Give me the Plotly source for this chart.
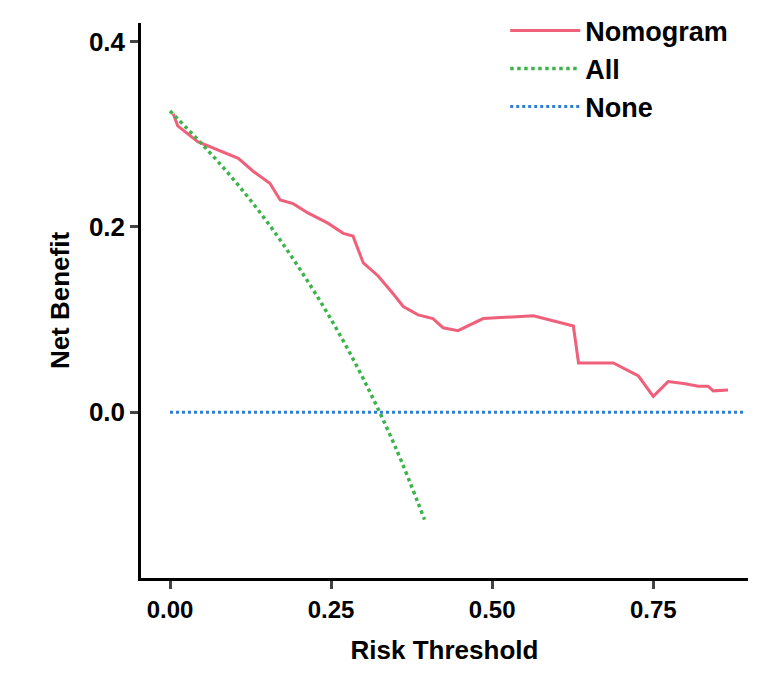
import plotly.graph_objects as go

nom_x = [0.005,0.012,0.043,0.067,0.106,0.129,0.155,0.171,0.191,0.214,0.245,0.269,0.284,0.300,0.323,0.346,0.362,0.385,0.408,0.424,0.447,0.486,0.564,0.626,0.634,0.688,0.727,0.750,0.773,0.797,0.820,0.835,0.843,0.866]
nom_y = [0.322,0.309,0.292,0.285,0.274,0.260,0.247,0.229,0.225,0.215,0.204,0.193,0.190,0.161,0.147,0.128,0.114,0.105,0.101,0.091,0.088,0.101,0.104,0.093,0.053,0.053,0.039,0.017,0.033,0.031,0.028,0.028,0.023,0.024]
all_x = [0.0,0.05,0.10,0.15,0.20,0.25,0.30,0.35,0.395]
all_y = [0.325,0.289,0.250,0.206,0.156,0.100,0.036,-0.038,-0.116]
none_x = [0.0,0.89]
none_y = [0.0,0.0]

fig = go.Figure()
fig.add_trace(go.Scatter(x=nom_x, y=nom_y, mode="lines", name="<b>Nomogram</b>", line=dict(color="#f0607a", width=3)))
fig.add_trace(go.Scatter(x=all_x, y=all_y, mode="lines", name="<b>All</b>", line=dict(color="#3cb44b", width=3.5, dash="dot", shape="spline")))
fig.add_trace(go.Scatter(x=none_x, y=none_y, mode="lines", name="<b>None</b>", line=dict(color="#2f7fd6", width=3, dash="dot")))

fig.update_layout(
    width=781, height=691, plot_bgcolor="white", paper_bgcolor="white",
    margin=dict(l=133, r=41, t=15, b=121, autoexpand=False),
    font=dict(family="Liberation Sans, Arial", size=26, color="black"),
    legend=dict(x=0.6, y=1.03, xanchor="left", yanchor="top", font=dict(size=27), bgcolor="rgba(0,0,0,0)", itemwidth=70, tracegroupgap=8),
    xaxis=dict(range=[-0.045,0.897], tickvals=[0,0.25,0.5,0.75], ticktext=["<b>0.00</b>","<b>0.25</b>","<b>0.50</b>","<b>0.75</b>"],
               showgrid=False, zeroline=False, showline=True, linecolor="black", linewidth=2.5,
               ticks="outside", ticklen=8, tickwidth=2.5, automargin=False, tickfont=dict(size=24),
               title=dict(text="<b>Risk Threshold</b>", font=dict(size=26), standoff=20)),
    yaxis=dict(range=[-0.179,0.42], tickvals=[0,0.2,0.4], ticktext=["<b>0.0</b>","<b>0.2</b>","<b>0.4</b>"],
               showgrid=False, zeroline=False, showline=True, linecolor="black", linewidth=2.5,
               ticks="outside", ticklen=8, tickwidth=2.5, automargin=False, tickfont=dict(size=26),
               title=dict(text="<b>Net Benefit</b>", font=dict(size=26), standoff=12)),
)
fig.write_html("out.html")
